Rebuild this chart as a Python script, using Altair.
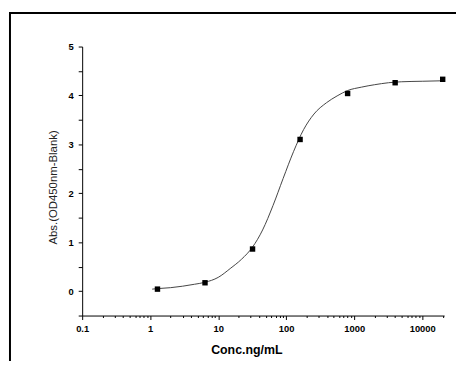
import altair as alt
import pandas as pd

# Measured points
conc = [1.28, 6.4, 32, 160, 800, 4000, 20000]
absorb = [0.04, 0.17, 0.86, 3.10, 4.04, 4.26, 4.33]

# Fitted curve
curve_x = [1.07, 1.28, 2, 3, 4.5, 6.4, 10, 15, 22, 32, 45, 64, 90, 128, 180,
           256, 390, 560, 800, 1280, 2000, 3200, 5000, 10000, 20000]
curve_y = [0.04, 0.05, 0.07, 0.10, 0.14, 0.18, 0.28, 0.46, 0.65, 0.90, 1.25,
           1.75, 2.30, 2.85, 3.30, 3.62, 3.85, 3.99, 4.10, 4.17, 4.22, 4.26,
           4.28, 4.29, 4.30]

x_major = [0.1, 1, 10, 100, 1000, 10000]
x_ticks = sorted(x_major + [round(m * d, 6) for d in [0.1, 1, 10, 100, 1000, 10000]
                            for m in range(2, 10) if m * d <= 21000])
y_major = [0, 1, 2, 3, 4, 5]
y_minor = [-0.5, 0.5, 1.5, 2.5, 3.5, 4.5]

pts = pd.DataFrame({"x": conc, "y": absorb})
crv = pd.DataFrame({"x": curve_x, "y": curve_y})

major_test = "indexof([0.1,1,10,100,1000,10000], datum.value) >= 0"

xscale = alt.Scale(type="log", domain=[0.1, 21000], nice=False)
yscale = alt.Scale(domain=[-0.5, 5], nice=False, zero=False)

xaxis = alt.Axis(
    values=x_ticks,
    labelExpr=f"{major_test} ? format(datum.value, '~g') : ''",
    tickSize={"condition": {"test": major_test, "value": 4}, "value": 2},
    labelOverlap=False, labelFlush=False, grid=False,
    labelFont="Liberation Sans", labelFontSize=9.5, labelFontWeight="bold",
    labelColor="black", labelPadding=4,
    domainColor="black", tickColor="black",
    title="Conc.ng/mL", titleFont="Liberation Sans", titleFontSize=12.5,
    titleFontWeight="bold", titleColor="black",
    titleX=166, titleY=34, titleAlign="center", titleBaseline="middle",
)
yaxis = alt.Axis(
    values=y_major, orient="left",
    format="d",
    tickSize=4, labelOverlap=False, labelFlush=False, grid=False,
    labelFont="Liberation Sans", labelFontSize=9.5, labelFontWeight="bold",
    labelColor="black", labelPadding=5,
    domainColor="black", tickColor="black",
    title="Abs.(OD450nm-Blank)", titleFont="Liberation Sans", titleFontSize=11.5,
    titleFontWeight="normal", titleColor="#222",
    titleX=-29, titleY=142, titleAlign="center", titleBaseline="middle", titleAngle=-90,
)
yaxis_minor = alt.Axis(
    values=y_minor, orient="left", labels=False, domain=False, grid=False,
    tickSize=4, tickColor="black", title=None,
)

line = alt.Chart(crv).mark_line(color="#444", strokeWidth=1, interpolate="monotone").encode(
    x=alt.X("x:Q", scale=xscale, axis=xaxis),
    y=alt.Y("y:Q", scale=yscale, axis=yaxis),
)
points = alt.Chart(pts).mark_square(color="black", size=30, opacity=1).encode(
    x=alt.X("x:Q", scale=xscale),
    y=alt.Y("y:Q", scale=yscale, axis=yaxis_minor),
)

one = pd.DataFrame({"a": [0]})
frame = alt.Chart(one).mark_rect(
    fill="transparent", stroke="black", strokeWidth=2
).encode(
    x=alt.value(-73), x2=alt.value(430), y=alt.value(-34), y2=alt.value(380)
)

chart = alt.layer(line, points, frame).resolve_axis(
    y="independent"
).properties(
    width=366, height=272,
    autosize="none",
    padding={"left": 75, "top": 37, "right": 12, "bottom": 44},
    background="white",
).configure_view(stroke=None)

chart.save("out.html", embed_options={"renderer": "svg", "actions": False})
